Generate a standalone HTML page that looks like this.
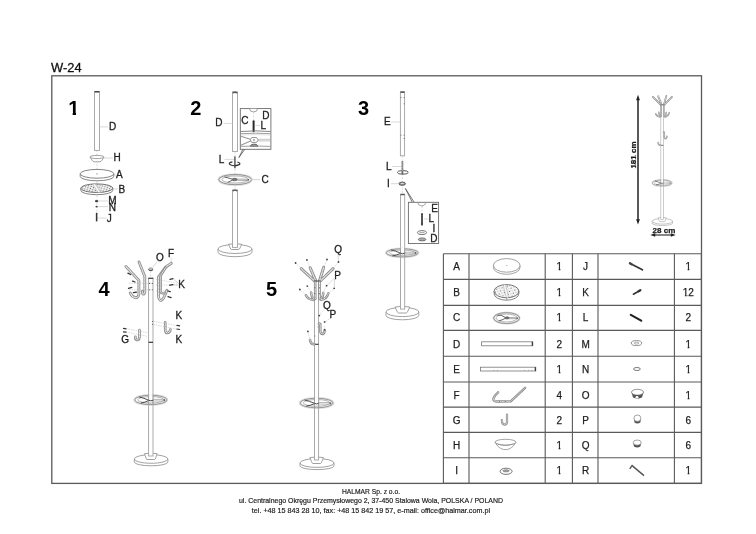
<!DOCTYPE html>
<html><head><meta charset="utf-8"><title>W-24</title>
<style>
html,body{margin:0;padding:0;background:#fff;}
body{width:756px;height:534px;overflow:hidden;position:relative;font-family:"Liberation Sans",sans-serif;}
svg{position:absolute;left:0;top:0;will-change:transform;opacity:0.999;}
svg text{font-family:"Liberation Sans",sans-serif;}
.lb{font-size:10px;fill:#1e1e1e;stroke:#1e1e1e;stroke-width:0.3;}
.num{font-size:20px;font-weight:bold;fill:#000;}
.tb{font-size:10px;fill:#1e1e1e;stroke:#1e1e1e;stroke-width:0.25;}
.ft{font-size:7.8px;fill:#222;stroke:#222;stroke-width:0.2;}
.ol{fill:#fff;stroke:#8a8a8a;stroke-width:0.8;}
.pl{fill:#fff;stroke:#a2a2a2;stroke-width:0.9;}
.ln{fill:none;stroke:#8a8a8a;stroke-width:0.8;}
.ld{fill:none;stroke:#c9c9c9;stroke-width:0.7;}
.dk{fill:none;stroke:#333;stroke-width:1.3;}
.ctr{fill:none;stroke:#c8c8c8;stroke-width:0.7;stroke-dasharray:2 1.5;}
</style></head>
<body>
<svg width="756" height="534" viewBox="0 0 756 534">
<defs>
<pattern id="dots" width="2.6" height="2.2" patternUnits="userSpaceOnUse" patternTransform="rotate(20)">
<rect width="2.6" height="2.2" fill="#f2f2f2"/><circle cx="1.2" cy="1.1" r="0.62" fill="#6a6a6a"/>
</pattern>
<pattern id="dots2" width="4.2" height="3.4" patternUnits="userSpaceOnUse" patternTransform="rotate(25)">
<rect width="4.2" height="3.4" fill="#f6f6f6"/><circle cx="1.2" cy="1.1" r="0.6" fill="#666"/><circle cx="3.3" cy="2.6" r="0.45" fill="#888"/>
</pattern>
<pattern id="hatch" width="1.8" height="1.8" patternUnits="userSpaceOnUse" patternTransform="rotate(35)">
<rect width="1.8" height="1.8" fill="#f3f3f3"/><rect width="0.6" height="1.8" fill="#b5b5b5"/>
</pattern>
</defs>
<!-- title -->
<text x="51" y="71.6" style="font-size:12.9px;fill:#111;stroke:#111;stroke-width:0.3">W-24</text>
<!-- frame -->
<rect x="51.8" y="75.8" width="649.7" height="407.6" fill="none" stroke="#5a5a5a" stroke-width="1.3"/>

<!-- STEP 1 -->
<g id="s1">
<clipPath id="c1"><rect x="60" y="95" width="30" height="17.1"/><rect x="72.67" y="95" width="3.34" height="25"/></clipPath>
<text class="num" x="68.3" y="115.2" clip-path="url(#c1)">1</text>
<line class="ctr" x1="97" y1="150" x2="97" y2="222"/>
<rect class="pl" x="94.5" y="91.4" width="5" height="59"/>
<line x1="94.6" y1="91.8" x2="99.4" y2="91.8" stroke="#444" stroke-width="1.5"/>
<line class="ld" x1="99.5" y1="126.9" x2="108" y2="126.9"/>
<text class="lb" x="109.1" y="130.4">D</text>
<!-- H -->
<path d="M90,157 C91,159 92.5,161.5 94,161.8 L100,161.8 C101.5,161.5 103,159 104,157 Z" fill="#fff"/><path class="ln" d="M90,157 C91,159 92.5,161.5 94,161.8 L100,161.8 C101.5,161.5 103,159 104,157"/>
<ellipse class="ol" cx="97" cy="157" rx="7" ry="1.6"/>
<line class="ld" x1="104" y1="158" x2="113" y2="158"/>
<text class="lb" x="113.5" y="161.2">H</text>
<!-- A -->
<path d="M80.2,173.8 L80.2,176.4 A16.8,4.4 0 0 0 113.8,176.4 L113.8,173.8 Z" fill="#fff" stroke="#666" stroke-width="0.8"/>
<ellipse cx="97" cy="173.8" rx="16.8" ry="4.4" fill="#fff" stroke="#666" stroke-width="0.8"/>
<circle cx="97" cy="173.9" r="0.6" fill="#777"/>
<line class="ld" x1="114" y1="175" x2="116" y2="175"/>
<text class="lb" x="116" y="178.2">A</text>
<!-- B -->
<path d="M80.8,188.2 L80.8,190.4 A16,4.3 0 0 0 112.8,190.4 L112.8,188.2 Z" fill="#fff" stroke="#666" stroke-width="0.8"/>
<ellipse cx="96.8" cy="188.2" rx="16" ry="4.3" fill="url(#dots)" stroke="#555" stroke-width="0.8"/>
<path d="M92.5,184 L98,192.4 L100.8,192.4 L95.3,184 Z" fill="#fafafa" stroke="#999" stroke-width="0.5"/>
<line class="ld" x1="113" y1="189" x2="118" y2="189"/>
<text class="lb" x="118.5" y="193.2">B</text>
<!-- M N J -->
<ellipse cx="96.6" cy="201.2" rx="1.7" ry="1.1" fill="#444"/>
<ellipse cx="96.6" cy="206.6" rx="1.1" ry="0.9" fill="#444"/>
<line x1="96.6" y1="212.8" x2="96.6" y2="221.3" stroke="#333" stroke-width="1.5"/>
<line class="ld" x1="98" y1="201" x2="108" y2="201"/>
<line class="ld" x1="98" y1="206.6" x2="108" y2="206.6"/>
<line class="ld" x1="98" y1="218" x2="106.5" y2="218"/>
<text class="lb" x="108.3" y="203.9">M</text>
<text class="lb" x="108.8" y="211">N</text>
<text class="lb" x="106.8" y="222">J</text>
</g>

<!-- STEP 2 -->
<g id="s2">
<text class="num" x="190.2" y="115.2">2</text>
<rect class="pl" x="232.5" y="91.8" width="5" height="59.7"/>
<path d="M232.7,93 Q235,91.4 237.3,93" fill="none" stroke="#555" stroke-width="1.4"/>
<line class="ld" x1="223.5" y1="123.4" x2="232.7" y2="123.4"/>
<text class="lb" x="215.3" y="126.3">D</text>
<!-- inset -->
<rect x="240.3" y="108.6" width="30.6" height="40.7" fill="#fff" stroke="#6a6a6a" stroke-width="0.9"/>
<path d="M249.6,108.8 A3.9,3.1 0 0 0 257.4,108.8" fill="#fff" stroke="#888" stroke-width="0.8"/>
<line class="ctr" x1="253.6" y1="112" x2="253.6" y2="120"/>
<line x1="253.6" y1="121.3" x2="253.6" y2="131.2" stroke="#2a2a2a" stroke-width="2" stroke-linecap="round"/>
<text class="lb" x="241.3" y="123.7">C</text>
<text class="lb" x="262.3" y="118.5">D</text>
<text class="lb" x="260.5" y="128.8">L</text>
<line class="ld" x1="255.5" y1="125.5" x2="260" y2="125.5"/>
<path d="M240.8,131.5 Q256,130.2 270.5,131.5" fill="none" stroke="#777" stroke-width="0.9"/>
<path d="M240.8,133.7 Q256,132.7 270.5,133.7" fill="none" stroke="#888" stroke-width="0.8"/>
<path d="M240.8,135 Q256,134.2 270.5,135" fill="none" stroke="#ccc" stroke-width="0.6"/>
<path d="M240.8,136.3 L250.3,139.3 M240.8,145.3 L250.6,140.9" fill="none" stroke="#999" stroke-width="1.1"/>
<path d="M258,139.3 L270.5,139.3 M258,140.9 L270.5,140.9" fill="none" stroke="#aaa" stroke-width="0.7"/>
<path d="M250.2,139.9 L251.8,137.5 L256.5,137.5 L258.2,139.9 L256.5,142.4 L251.8,142.4 Z" fill="#fff" stroke="#777" stroke-width="0.8"/>
<ellipse cx="254" cy="139.9" rx="1.1" ry="0.7" fill="#777"/>
<path d="M250.3,146.2 Q250.8,144.1 254.1,144.1 Q257.4,144.1 257.9,146.2 Z" fill="#bbb" stroke="#444" stroke-width="0.8"/>
<path d="M240.8,146.4 Q256,145.6 270.5,146.4" fill="none" stroke="#888" stroke-width="0.8"/>
<!-- callout wedge -->
<path d="M242.9,149.3 L238.9,157.6 L244.7,149.3" fill="none" stroke="#555" stroke-width="0.8" stroke-linejoin="round"/>
<!-- L bolt + washer -->
<line class="ctr" x1="235" y1="151.5" x2="235" y2="189.5"/>
<line x1="234.9" y1="156.6" x2="234.9" y2="168.3" stroke="#666" stroke-width="1.6"/>
<path d="M232.4,161.9 A5.3,1.9 0 1 0 237.3,162" fill="none" stroke="#333" stroke-width="1.2"/>
<line class="ld" x1="224.5" y1="159.4" x2="234" y2="159.4"/>
<text class="lb" x="218.7" y="162.7">L</text>
<!-- C disc -->
<ellipse cx="235.1" cy="179.6" rx="16.4" ry="5.1" fill="#fff" stroke="#e0e0e0" stroke-width="2.6"/>
<ellipse cx="235.1" cy="179.6" rx="16.4" ry="5.1" fill="none" stroke="#808080" stroke-width="0.8"/>
<ellipse cx="235.1" cy="179.5" rx="13.3" ry="3.5" fill="none" stroke="#999" stroke-width="0.7"/>
<path d="M224.5,176.9 L232.6,179.2 M227.7,182.4 L232.8,180" fill="none" stroke="#555" stroke-width="0.9"/>
<path d="M237.2,179 L248.6,179.3 M237.2,180.4 L248.6,180.4" fill="none" stroke="#888" stroke-width="0.7"/>
<ellipse cx="234.7" cy="179.5" rx="2.5" ry="1.3" fill="#777" stroke="#444" stroke-width="0.6"/>
<circle cx="248.4" cy="179.8" r="0.8" fill="#555"/>
<line class="ld" x1="251" y1="179.5" x2="260" y2="179.5"/>
<text class="lb" x="261.4" y="183.3">C</text>
<!-- lower pole + base -->
<path class="ol" d="M218,249 L218,252.2 A17,4.5 0 0 0 252,252.2 L252,249 Z"/>
<ellipse class="ol" cx="235" cy="249" rx="17" ry="4.5"/>
<path class="ol" d="M228.5,244.3 C230.0,247.10000000000002 230.4,249.4 231.6,249.5 L238.6,249.5 C239.8,249.4 240.2,247.10000000000002 241.7,244.3 Q235.1,243.0 228.5,244.3 Z"/>
<rect class="pl" x="232.5" y="189.9" width="5" height="57.5"/>
<path d="M232.7,190.9 Q235,189.4 237.3,190.9" fill="none" stroke="#555" stroke-width="1.4"/>
</g>

<!-- STEP 3 -->
<g id="s3">
<text class="num" x="358" y="115.3">3</text>
<rect class="pl" x="400.4" y="91.7" width="4.2" height="64.1"/>
<line x1="400.5" y1="92.2" x2="404.5" y2="92.2" stroke="#555" stroke-width="1.5"/>
<g stroke="#666" stroke-width="0.9"><path d="M400.5,97.6 h1 M403.6,97.6 h1 M403.6,103.8 h1 M400.5,135.2 h1 M403.6,135.2 h1 M403.6,138.5 h1"/></g>
<line class="ld" x1="391" y1="122" x2="400.2" y2="122"/>
<text class="lb" x="384" y="125.4">E</text>
<line class="ctr" x1="402.4" y1="156" x2="402.4" y2="194"/>
<path d="M397.3,172.4 A5.5,1.8 0 0 1 408.3,172.4" fill="none" stroke="#444" stroke-width="0.9"/>
<line x1="402.4" y1="161.2" x2="402.4" y2="174" stroke="#666" stroke-width="1.7"/>
<path d="M401.6,163 L403.2,162.4 M401.6,164.6 L403.2,164 M401.6,166.2 L403.2,165.6 M401.6,167.8 L403.2,167.2 M401.6,169.4 L403.2,168.8 M401.6,171 L403.2,170.4" stroke="#eee" stroke-width="0.5"/>
<path d="M397.3,172.4 A5.5,1.8 0 0 0 408.3,172.4" fill="none" stroke="#444" stroke-width="0.9"/>
<line class="ld" x1="392" y1="166.5" x2="401.5" y2="166.5"/>
<text class="lb" x="386" y="170">L</text>
<ellipse cx="402.2" cy="183.7" rx="3.3" ry="1.6" fill="#999" stroke="#444" stroke-width="0.8"/>
<ellipse cx="402.2" cy="183.4" rx="1.5" ry="0.6" fill="#ddd"/>
<line class="ld" x1="391" y1="183.7" x2="398.5" y2="183.7"/>
<text class="lb" x="387" y="186.6">I</text>
<!-- callout -->
<path d="M412.3,202.3 L405.4,188.5 L414.2,202.3" fill="none" stroke="#555" stroke-width="0.8" stroke-linejoin="round"/>
<rect x="408.4" y="202.3" width="30.2" height="41.2" fill="#fff" stroke="#6a6a6a" stroke-width="0.9"/>
<path class="ln" d="M417.8,202.3 C418.2,204.8 419.6,205.8 421.8,205.8 C424,205.8 425.4,204.8 425.7,202.3"/>
<line class="ctr" x1="422" y1="206" x2="422" y2="213"/>
<line x1="422" y1="213.9" x2="422" y2="224.7" stroke="#333" stroke-width="1.8" stroke-linecap="round"/>
<path d="M421.2,216 l1.6,-0.5 M421.2,218 l1.6,-0.5 M421.2,220 l1.6,-0.5 M421.2,222 l1.6,-0.5" stroke="#999" stroke-width="0.4"/>
<ellipse cx="422" cy="232.6" rx="4.6" ry="2" fill="#fff" stroke="#555" stroke-width="0.8"/>
<line x1="419.5" y1="232.6" x2="424.5" y2="232.6" stroke="#666" stroke-width="0.6"/>
<ellipse cx="422.1" cy="239.4" rx="3.8" ry="1.5" fill="#aaa" stroke="#555" stroke-width="0.7"/>
<line class="ld" x1="424" y1="219" x2="428.5" y2="219"/>
<text class="lb" x="431.2" y="212.1">E</text>
<text class="lb" x="428.5" y="222.1">L</text>
<text class="lb" x="432.5" y="231.6">I</text>
<text class="lb" x="430.2" y="241.5">D</text>
<!-- lower pole -->
<path class="ol" d="M386,312 L386,315.5 A16.4,4.3 0 0 0 418.8,315.5 L418.8,312 Z"/>
<ellipse class="ol" cx="402.4" cy="312" rx="16.4" ry="4.6"/>
<path class="ol" d="M395.0,307 C396.5,309.8 397.3,312.9 398.5,313 L406.3,313 C407.5,312.9 408.3,309.8 409.8,307 Q402.4,305.7 395.0,307.0 Z"/>
<rect class="pl" x="400.5" y="194.1" width="4.2" height="115"/>
<line x1="400.6" y1="194.6" x2="404.6" y2="194.6" stroke="#555" stroke-width="1.3"/>
<g class="ring">
<ellipse cx="402.2" cy="252.8" rx="16" ry="4.1" fill="none" stroke="#e2e2e2" stroke-width="2.6"/>
<ellipse cx="402.2" cy="252.8" rx="16" ry="4.1" fill="none" stroke="#858585" stroke-width="0.8"/>
<ellipse cx="402.2" cy="252.7" rx="12.8" ry="2.6" fill="none" stroke="#999" stroke-width="0.7"/>
<path d="M390.8,249.9 Q395.2,250.8 400.5,253.1 M392.4,255.9 Q396.2,255.4 400.5,253.5" fill="none" stroke="#3a3a3a" stroke-width="0.9"/>
<path d="M404.7,252.3 L415.4,252.3 M404.7,253.9 L415.4,253.9" fill="none" stroke="#999" stroke-width="0.7"/>
<ellipse cx="415.6" cy="253.1" rx="0.9" ry="1.1" fill="#666"/>
<rect x="400.9" y="247.7" width="3.4" height="5.4" fill="#fff"/>
<path d="M400.5,247.7 L400.5,258.1 M404.7,258.1 L404.7,247.7" fill="none" stroke="#999" stroke-width="0.8"/><path d="M400.5,253.1 Q402.6,254.3 404.7,253.1" fill="none" stroke="#333" stroke-width="0.9"/>
</g>
</g>

<!-- DIMENSION -->
<g id="dim">
<line x1="638" y1="98" x2="638" y2="221" stroke="#222" stroke-width="1.5"/>
<path d="M638,94.8 L636.1,100.2 L639.9,100.2 Z M638,224.6 L636.1,219.2 L639.9,219.2 Z" fill="#222"/>
<clipPath id="c181"><rect x="-1" y="-10" width="40" height="9.15"/><rect x="1.15" y="-10" width="1.6" height="12"/><rect x="4.3" y="-10" width="4.5" height="12"/><rect x="10.05" y="-10" width="1.6" height="12"/><rect x="12.6" y="-10" width="30" height="12"/></clipPath>
<text transform="translate(636.3,168.6) rotate(-90)" clip-path="url(#c181)" style="font-size:8px;font-weight:bold;fill:#1a1a1a;stroke:#1a1a1a;stroke-width:0.25">181 cm</text>
<!-- mini rack -->
<use href="#rack5" transform="translate(662.1,96.5) scale(0.6,0.64) translate(-316.6,-268)"/>
<text x="652.6" y="232.6" style="font-size:8px;font-weight:bold;fill:#1a1a1a;stroke:#1a1a1a;stroke-width:0.25">28 cm</text>
<line x1="653" y1="235" x2="673" y2="235" stroke="#222" stroke-width="1.1"/>
<path d="M650.3,235 L655.2,233.2 L655.2,236.8 Z M675.7,235 L670.8,233.2 L670.8,236.8 Z" fill="#222"/>
</g>

<!-- STEP 4 -->
<g id="s4">
<text class="num" x="98.4" y="295.8">4</text>
<!-- pole -->
<path class="ol" d="M134.3,459 L134.3,462 A16.8,3.8 0 0 0 167.9,462 L167.9,459 Z"/>
<ellipse class="ol" cx="151.1" cy="459" rx="16.8" ry="4.3"/>
<path class="ol" d="M144.4,453.7 C145.9,456.5 145.8,459.4 147.0,459.5 L154.7,459.5 C155.8,459.4 155.8,456.5 157.2,453.7 Q150.8,452.4 144.4,453.7 Z"/>
<rect class="pl" x="148.6" y="278" width="4.4" height="178"/>
<line x1="148.3" y1="278.4" x2="153.3" y2="278.4" stroke="#444" stroke-width="1.1"/>
<line x1="148.6" y1="342.3" x2="153" y2="342.3" stroke="#333" stroke-width="1.2"/>
<!-- ring -->
<g class="ring">
<ellipse cx="150.8" cy="399.9" rx="16.2" ry="4.7" fill="none" stroke="#e2e2e2" stroke-width="2.6"/>
<ellipse cx="150.8" cy="399.9" rx="16.2" ry="4.7" fill="none" stroke="#858585" stroke-width="0.8"/>
<ellipse cx="150.8" cy="399.8" rx="13" ry="3.2" fill="none" stroke="#999" stroke-width="0.7"/>
<path d="M139.2,397 Q143.6,397.9 148.6,400.2 M140.8,403 Q144.6,402.5 148.6,400.6" fill="none" stroke="#3a3a3a" stroke-width="0.9"/>
<path d="M153,399.4 L164.2,399.4 M153,401 L164.2,401" fill="none" stroke="#999" stroke-width="0.7"/>
<ellipse cx="164.4" cy="400.2" rx="0.9" ry="1.1" fill="#666"/>
<rect x="149" y="394.2" width="3.6" height="6" fill="#fff"/>
<path d="M148.6,394.2 L148.6,405.8 M153,405.8 L153,394.2" fill="none" stroke="#999" stroke-width="0.8"/><path d="M148.6,400.2 Q150.8,401.4 153,400.2" fill="none" stroke="#333" stroke-width="0.9"/>
</g>
<!-- O cap and labels -->
<ellipse cx="150.7" cy="269.3" rx="2.2" ry="1.5" fill="#ccc" stroke="#666" stroke-width="0.5"/>
<path d="M148.6,269.6 A2.2,1.2 0 0 0 152.8,269.6" fill="none" stroke="#333" stroke-width="0.9"/>
<line class="ctr" x1="150.7" y1="271" x2="150.7" y2="277"/>
<line class="ld" x1="152.6" y1="267.6" x2="157" y2="261.6"/>
<text class="lb" x="156" y="260.7">O</text>
<text class="lb" x="168" y="256.8">F</text>
<line class="ld" x1="171" y1="257.6" x2="171.3" y2="262.5"/>
<!-- dashed alignment lines -->
<path class="ld" d="M129,283.3 L153,283.3 M129,289.8 L153,289.8 M156,279.3 L178,283.3 M156,285 L178,285.2 M156,291 L168,291.2" style="stroke-dasharray:1.5 1"/>
<g fill="#555"><circle cx="149.6" cy="283.4" r="0.55"/><circle cx="152.3" cy="283.4" r="0.55"/><circle cx="149.6" cy="289.8" r="0.55"/><circle cx="152.3" cy="289.8" r="0.55"/></g>
<!-- hooks -->
<g fill="none" stroke-linecap="round" stroke-linejoin="round">
<path d="M125.9,266.5 L138.9,280.4 L138.9,294.2 Q138.5,298 135.3,297.7 Q132,297 130.2,293" stroke="#8a8a8a" stroke-width="2.8"/>
<path d="M125.9,266.5 L138.9,280.4 L138.9,294.2 Q138.5,298 135.3,297.7 Q132,297 130.2,293" stroke="url(#hatch)" stroke-width="1.2"/>
<path d="M139,261.9 L144.8,276.5 L144.8,292.5 Q144.3,294.5 143,294 Q142.2,293.5 142.3,291.5" stroke="#8a8a8a" stroke-width="2.8"/>
<path d="M139,261.9 L144.8,276.5 L144.8,292.5 Q144.3,294.5 143,294 Q142.2,293.5 142.3,291.5" stroke="url(#hatch)" stroke-width="1.2"/>
<path d="M171.3,263.3 L165.2,267.5 L158.4,277 L158.4,295 Q158.8,300.5 161,300.5 Q163.5,300 166.9,290.3" stroke="#8a8a8a" stroke-width="2.8"/>
<path d="M171.3,263.3 L165.2,267.5 L158.4,277 L158.4,295 Q158.8,300.5 161,300.5 Q163.5,300 166.9,290.3" stroke="url(#hatch)" stroke-width="1.2"/>
<path d="M165.7,267.5 L160.7,275.5 L160.7,292.2 Q161.5,294 164.6,292.8" stroke="#8a8a8a" stroke-width="2.4"/>
<path d="M165.7,267.5 L160.7,275.5 L160.7,292.2 Q161.5,294 164.6,292.8" stroke="url(#hatch)" stroke-width="0.9"/>
</g>
<!-- K screws top -->
<g stroke="#333" stroke-width="1.3" stroke-linecap="round">
<path d="M127.9,273.2 L130.6,274.5 M132.6,281.1 L135,282 M128.5,288.3 L131.8,287.3 M133.4,292.7 L136.5,292.1"/>
<path d="M170,279.4 L173,278.7 M169.7,285.2 L173,284.6 M168,291 L170.2,291.7 M168,296.7 L171.1,297.6"/>
</g>
<line class="ld" x1="173.5" y1="279" x2="178.5" y2="283.5"/>
<line class="ld" x1="173.5" y1="284.7" x2="178.5" y2="285"/>
<text class="lb" x="178.2" y="288.4">K</text>
<!-- lower hooks G -->
<path class="ld" d="M126,328.7 L148.3,332.8 M126,332 L148.3,336.5 M153.3,321.3 L177,325.6 M153.3,324.3 L177,329.3" style="stroke-dasharray:1.5 1"/>
<g fill="none" stroke-linecap="round">
<path d="M165.2,322.3 L165.2,330 Q165.5,333.2 167.5,333 Q170,332.5 170.4,329.5" stroke="#8a8a8a" stroke-width="2.6"/>
<path d="M165.2,322.3 L165.2,330 Q165.5,333.2 167.5,333 Q170,332.5 170.4,329.5" stroke="url(#hatch)" stroke-width="1"/>
<path d="M139.5,330 L139.5,337.5 Q139,340.2 137,340 Q135,339.8 135.4,336.8" stroke="#8a8a8a" stroke-width="2.6"/>
<path d="M139.5,330 L139.5,337.5 Q139,340.2 137,340 Q135,339.8 135.4,336.8" stroke="url(#hatch)" stroke-width="1"/>
</g>
<g stroke="#333" stroke-width="1.2" stroke-linecap="round">
<path d="M123.5,328.4 L126,328.9 M123.5,331.8 L126,332.2 M177,325.3 L179.6,325.8 M177,329 L179.6,329.5"/>
</g>
<g fill="#555"><circle cx="152.5" cy="321.5" r="0.55"/><circle cx="152.5" cy="324.3" r="0.55"/></g>
<text class="lb" x="175.4" y="318.6">K</text>
<text class="lb" x="175.4" y="343.2">K</text>
<text class="lb" x="121.2" y="343.4">G</text>
</g>

<!-- STEP 5 -->
<g id="s5">
<text class="num" x="266" y="295.7">5</text>
<g id="rack5">
<!-- base -->
<path class="ol" d="M300,463 L300,466 A17,3.6 0 0 0 334,466 L334,463 Z"/>
<ellipse class="ol" cx="317" cy="463" rx="17" ry="4.4"/>
<path class="ol" d="M309.9,457.6 C311.4,460.40000000000003 311.7,463.4 312.9,463.5 L320.5,463.5 C321.7,463.4 322.0,460.40000000000003 323.5,457.6 Q316.7,456.3 309.9,457.6 Z"/>
<rect class="pl" x="314.5" y="281" width="4.1" height="179"/>
<line x1="314.5" y1="344.3" x2="318.6" y2="344.3" stroke="#333" stroke-width="1.1"/>
<!-- ring -->
<g class="ring">
<ellipse cx="316.6" cy="403" rx="16.5" ry="4.8" fill="none" stroke="#e2e2e2" stroke-width="2.6"/>
<ellipse cx="316.6" cy="403" rx="16.5" ry="4.8" fill="none" stroke="#858585" stroke-width="0.8"/>
<ellipse cx="316.6" cy="402.9" rx="13.3" ry="3.3" fill="none" stroke="#999" stroke-width="0.7"/>
<path d="M304.7,400.1 Q309.1,401 314.5,403.3 M306.3,406.1 Q310.1,405.6 314.5,403.7" fill="none" stroke="#3a3a3a" stroke-width="0.9"/>
<path d="M318.6,402.5 L330.3,402.5 M318.6,404.1 L330.3,404.1" fill="none" stroke="#999" stroke-width="0.7"/>
<ellipse cx="330.5" cy="403.3" rx="0.9" ry="1.1" fill="#666"/>
<rect x="314.9" y="397.2" width="3.3" height="6.1" fill="#fff"/>
<path d="M314.5,397.2 L314.5,409 M318.6,409 L318.6,397.2" fill="none" stroke="#999" stroke-width="0.8"/><path d="M314.5,403.3 Q316.55,404.5 318.6,403.3" fill="none" stroke="#333" stroke-width="0.9"/>
</g>
<!-- top arms -->
<g fill="none" stroke-linecap="round" stroke-linejoin="round">
<path d="M301.2,268.6 L314.8,281.2 M310.1,267.7 L315.8,280.8 M323.7,267.2 L319.5,280.8 M333.1,268.6 L320,281.2" stroke="#8a8a8a" stroke-width="2.9"/>
<path d="M301.2,268.6 L314.8,281.2 M310.1,267.7 L315.8,280.8 M323.7,267.2 L319.5,280.8 M333.1,268.6 L320,281.2" stroke="url(#hatch)" stroke-width="1.2"/>
<path d="M315.2,281 L315.2,299 M319.5,281 L319.5,299" stroke="#8a8a8a" stroke-width="2.6"/>
<path d="M315.2,281 L315.2,299 M319.5,281 L319.5,299" stroke="url(#hatch)" stroke-width="1"/>
<path d="M305.9,295.3 Q308,299.5 313.5,300 M311.1,292.5 Q311.5,297.5 314,299 M323.3,293 Q323,297.5 320.8,299 M328.4,293.4 Q326.5,299.3 321,299.8" stroke="#8a8a8a" stroke-width="2.5"/>
<path d="M305.9,295.3 Q308,299.5 313.5,300 M311.1,292.5 Q311.5,297.5 314,299 M323.3,293 Q323,297.5 320.8,299 M328.4,293.4 Q326.5,299.3 321,299.8" stroke="url(#hatch)" stroke-width="0.9"/>
<path d="M318.9,323.5 L320.3,324 L320.3,331 Q320.8,334.3 322.8,334 Q324.6,333.3 324.6,330.2" stroke="#8a8a8a" stroke-width="2.5"/>
<path d="M318.9,323.5 L320.3,324 L320.3,331 Q320.8,334.3 322.8,334 Q324.6,333.3 324.6,330.2" stroke="url(#hatch)" stroke-width="0.9"/>
<path d="M310,339.9 Q310.5,344 313.5,344.2 L314.2,344.2" stroke="#8a8a8a" stroke-width="2.5"/>
<path d="M310,339.9 Q310.5,344 313.5,344.2 L314.2,344.2" stroke="url(#hatch)" stroke-width="0.9"/>
</g>
<line x1="314" y1="281" x2="320.5" y2="281" stroke="#555" stroke-width="0.9"/>
</g>
<!-- dotted guides -->
<path class="ld" d="M295.6,263 L301.2,268.6 M306.9,259.9 L310.1,267.7 M327,259.5 L323.7,267.2 M338.5,262 L333.1,268.6 M299.8,289.5 L305.9,295.3 M307.3,286.1 L311.1,292.5 M326.6,285.7 L323.3,293 M334.2,288.3 L328.4,293.4" style="stroke-dasharray:1.2 0.8"/>
<g fill="#444">
<circle cx="295.6" cy="263" r="0.9"/><circle cx="306.9" cy="259.9" r="0.9"/><circle cx="327" cy="259.5" r="0.9"/><circle cx="338.5" cy="262" r="0.9"/>
<circle cx="299.8" cy="289.5" r="0.9"/><circle cx="307.3" cy="286.1" r="0.9"/><circle cx="326.6" cy="285.7" r="0.9"/><circle cx="334.2" cy="288.3" r="0.9"/>
<circle cx="314.8" cy="287.8" r="0.5"/><circle cx="319.3" cy="287.8" r="0.5"/><circle cx="314.8" cy="293.4" r="0.5"/><circle cx="319.3" cy="293.4" r="0.5"/>
</g>
<line class="ld" x1="338" y1="253.5" x2="338.5" y2="261"/>
<path class="ld" d="M334,278.5 L327.5,285 M334.5,279 L334.3,287.3"/>
<text class="lb" x="334.2" y="252.9">Q</text>
<text class="lb" x="334.2" y="278.6">P</text>
<path class="ld" d="M319.3,315.6 L324,309 M324.6,321.9 L331,318 M307.9,331.4 L310,339.5 M324.6,326 L324.6,329.9" style="stroke-dasharray:1.2 0.8"/>
<g fill="#444"><circle cx="319.3" cy="315.6" r="0.9"/><circle cx="324.6" cy="321.9" r="0.9"/><circle cx="307.9" cy="331.4" r="0.9"/><circle cx="324.6" cy="329.9" r="0.8"/>
<circle cx="315" cy="336" r="0.45"/><circle cx="318" cy="327" r="0.45"/></g>
<text class="lb" x="323" y="309">Q</text>
<text class="lb" x="329.6" y="318.3">P</text>
</g>

<!-- TABLE -->
<g id="tbl" stroke="#5a5a5a" stroke-width="1.1" fill="none">
<path d="M443.4,253.7V483.4 M469.0,253.7V483.4 M545.2,253.7V483.4 M572.4,253.7V483.4 M598.0,253.7V483.4 M674.4,253.7V483.4 M701.4,253.7V483.4"/>
<path d="M443.4,253.7H701.4 M443.4,279.4H701.4 M443.4,305.4H701.4 M443.4,330.4H701.4 M443.4,356.3H701.4 M443.4,382.0H701.4 M443.4,407.1H701.4 M443.4,432.4H701.4 M443.4,457.7H701.4 M443.4,483.4H701.4"/>
</g>

<clipPath id="t1c1"><rect x="553.20" y="258.00" width="12.00" height="11.00"/><rect x="558.65" y="258.00" width="1.75" height="14.00"/></clipPath>
<clipPath id="t1c2"><rect x="682.20" y="258.00" width="12.00" height="11.00"/><rect x="687.65" y="258.00" width="1.75" height="14.00"/></clipPath>
<clipPath id="t1c3"><rect x="553.20" y="284.00" width="12.00" height="11.00"/><rect x="558.65" y="284.00" width="1.75" height="14.00"/></clipPath>
<clipPath id="t1c4"><rect x="680.20" y="284.00" width="16.00" height="11.00"/><rect x="684.90" y="284.00" width="1.75" height="14.00"/><rect x="687.60" y="284.00" width="8.00" height="14.00"/></clipPath>
<clipPath id="t1c5"><rect x="553.20" y="309.00" width="12.00" height="11.00"/><rect x="558.65" y="309.00" width="1.75" height="14.00"/></clipPath>
<clipPath id="t1c6"><rect x="682.20" y="336.00" width="12.00" height="11.00"/><rect x="687.65" y="336.00" width="1.75" height="14.00"/></clipPath>
<clipPath id="t1c7"><rect x="553.20" y="361.00" width="12.00" height="11.00"/><rect x="558.65" y="361.00" width="1.75" height="14.00"/></clipPath>
<clipPath id="t1c8"><rect x="682.20" y="361.00" width="12.00" height="11.00"/><rect x="687.65" y="361.00" width="1.75" height="14.00"/></clipPath>
<clipPath id="t1c9"><rect x="682.20" y="386.00" width="12.00" height="11.00"/><rect x="687.65" y="386.00" width="1.75" height="14.00"/></clipPath>
<clipPath id="t1c10"><rect x="553.20" y="437.00" width="12.00" height="11.00"/><rect x="558.65" y="437.00" width="1.75" height="14.00"/></clipPath>
<clipPath id="t1c11"><rect x="553.20" y="462.00" width="12.00" height="11.00"/><rect x="558.65" y="462.00" width="1.75" height="14.00"/></clipPath>
<clipPath id="t1c12"><rect x="682.20" y="462.00" width="12.00" height="11.00"/><rect x="687.65" y="462.00" width="1.75" height="14.00"/></clipPath>
<g class="tb" text-anchor="middle">
<text x="456.6" y="270.10">A</text><text x="559.2" y="270.10" clip-path="url(#t1c1)">1</text><text x="585.6" y="270.10">J</text><text x="688.2" y="270.10" clip-path="url(#t1c2)">1</text>
<text x="456.6" y="295.60">B</text><text x="559.2" y="295.60" clip-path="url(#t1c3)">1</text><text x="585.6" y="295.60">K</text><text x="688.2" y="295.60" clip-path="url(#t1c4)">12</text>
<text x="456.6" y="320.90">C</text><text x="559.2" y="320.90" clip-path="url(#t1c5)">1</text><text x="585.6" y="320.90">L</text><text x="688.2" y="320.90">2</text>
<text x="456.6" y="347.50">D</text><text x="559.2" y="347.50">2</text><text x="585.6" y="347.50">M</text><text x="688.2" y="347.50" clip-path="url(#t1c6)">1</text>
<text x="456.6" y="373.10">E</text><text x="559.2" y="373.10" clip-path="url(#t1c7)">1</text><text x="585.6" y="373.10">N</text><text x="688.2" y="373.10" clip-path="url(#t1c8)">1</text>
<text x="456.6" y="398.50">F</text><text x="559.2" y="398.50">4</text><text x="585.6" y="398.50">O</text><text x="688.2" y="398.50" clip-path="url(#t1c9)">1</text>
<text x="456.6" y="423.60">G</text><text x="559.2" y="423.60">2</text><text x="585.6" y="423.60">P</text><text x="688.2" y="423.60">6</text>
<text x="456.6" y="449.30">H</text><text x="559.2" y="449.30" clip-path="url(#t1c10)">1</text><text x="585.6" y="449.30">Q</text><text x="688.2" y="449.30">6</text>
<text x="456.6" y="474.10">I</text><text x="559.2" y="474.10" clip-path="url(#t1c11)">1</text><text x="585.6" y="474.10">R</text><text x="688.2" y="474.10" clip-path="url(#t1c12)">1</text>
</g>
<!-- table images -->
<g id="timg">
<!-- A -->
<path class="ol" d="M493.4,265.4 L493.4,267.5 A13.3,6.8 0 0 0 520,267.5 L520,265.4 Z"/>
<ellipse class="ol" cx="506.7" cy="265.4" rx="13.3" ry="6.8"/>
<circle cx="506.9" cy="265.6" r="0.5" fill="#777"/>
<!-- B -->
<path d="M494.1,291.2 L494.1,293.6 A12.4,6.6 0 0 0 518.9,293.6 L518.9,291.2 Z" fill="#fff" stroke="#666" stroke-width="0.8"/>
<ellipse cx="506.5" cy="291.2" rx="12.4" ry="6.6" fill="url(#dots2)" stroke="#555" stroke-width="0.8"/>
<path d="M503.2,284.8 L506.3,297.7 L508.6,297.6 L505.6,284.7 Z" fill="#fafafa" stroke="#999" stroke-width="0.5"/>
<line x1="506.5" y1="297.6" x2="506.8" y2="300.2" stroke="#777" stroke-width="0.6"/>
<!-- C -->
<ellipse cx="506.6" cy="318.1" rx="12.9" ry="5.4" fill="#fff" stroke="#e0e0e0" stroke-width="2.2"/>
<ellipse cx="506.6" cy="318.1" rx="13" ry="5.5" fill="none" stroke="#808080" stroke-width="0.8"/>
<ellipse cx="506.6" cy="318" rx="10.6" ry="3.9" fill="none" stroke="#999" stroke-width="0.7"/>
<path d="M497.2,315.3 Q501,314.2 505.3,317.4 M498.8,320.8 Q502,320.2 505.4,318.3" fill="none" stroke="#555" stroke-width="0.9"/>
<path d="M508.6,317.5 L517.6,317.7 M508.6,318.7 L517.6,318.7" fill="none" stroke="#888" stroke-width="0.7"/>
<ellipse cx="507" cy="317.9" rx="2" ry="1.1" fill="#777" stroke="#444" stroke-width="0.6"/>
<circle cx="517.3" cy="318.2" r="0.7" fill="#555"/>
<!-- D -->
<rect x="481.6" y="341.8" width="51.2" height="4" fill="#fff" stroke="#777" stroke-width="0.8"/>
<line x1="532.3" y1="341.8" x2="532.3" y2="345.8" stroke="#333" stroke-width="1.2"/>
<!-- E -->
<rect x="480.4" y="367.2" width="55.4" height="3.8" fill="#fff" stroke="#777" stroke-width="0.8"/>
<line x1="535.3" y1="367.2" x2="535.3" y2="371" stroke="#333" stroke-width="1.2"/>
<g fill="#777"><circle cx="494" cy="370.3" r="0.45"/><circle cx="497.5" cy="370.3" r="0.45"/><circle cx="524.5" cy="370.3" r="0.45"/><circle cx="528.5" cy="370.3" r="0.45"/><circle cx="531.5" cy="370.3" r="0.45"/></g>
<!-- F -->
<g fill="none" stroke-linecap="round" stroke-linejoin="round">
<path d="M498.1,392.3 Q494.5,395.5 493.4,398.3 Q493,401.5 496.5,401.5 L510.7,401.3 L525.1,387.8" stroke="#8a8a8a" stroke-width="2.3"/>
<path d="M498.1,392.3 Q494.5,395.5 493.4,398.3 Q493,401.5 496.5,401.5 L510.7,401.3 L525.1,387.8" stroke="url(#hatch)" stroke-width="0.8"/>
</g>
<g fill="#555"><circle cx="499.6" cy="401.5" r="0.5"/><circle cx="505.3" cy="401.5" r="0.5"/></g>
<!-- G -->
<g fill="none" stroke-linecap="round">
<path d="M507,414.6 L507,422 Q506.8,424.6 504.6,424.6 Q502,424.4 501.9,420.2" stroke="#8a8a8a" stroke-width="2.2"/>
<path d="M507,414.6 L507,422 Q506.8,424.6 504.6,424.6 Q502,424.4 501.9,420.2" stroke="url(#hatch)" stroke-width="0.8"/>
</g>
<!-- H -->
<path class="ol" d="M495.1,442.2 C497,446 500.5,449.6 505.5,449.6 C510.5,449.6 514,446 515.9,442.2 Z"/>
<ellipse class="ol" cx="505.5" cy="442.2" rx="10.4" ry="2.9"/>
<path class="ln" d="M497.5,443.8 Q505.5,447 513.5,443.8"/>
<!-- I -->
<ellipse cx="506.1" cy="471.3" rx="6" ry="3.1" fill="#fff" stroke="#666" stroke-width="0.9"/>
<ellipse cx="506.1" cy="470.8" rx="3.2" ry="1.1" fill="#aaa" stroke="#555" stroke-width="0.5"/>
<!-- J K L -->
<line x1="630.2" y1="263.5" x2="642.4" y2="269.8" stroke="#333" stroke-width="1.7" stroke-linecap="round"/>
<line x1="629.9" y1="263.3" x2="631.6" y2="264.2" stroke="#444" stroke-width="2.3" stroke-linecap="round"/>
<line x1="633.4" y1="294.2" x2="639" y2="291" stroke="#333" stroke-width="1.6" stroke-linecap="round"/>
<line x1="638.6" y1="291.2" x2="640.3" y2="290.2" stroke="#333" stroke-width="2.3" stroke-linecap="round"/>
<line x1="630.8" y1="314.9" x2="641.2" y2="320.6" stroke="#222" stroke-width="2.2" stroke-linecap="round"/>
<!-- M N -->
<ellipse cx="636.5" cy="343.1" rx="5.2" ry="2.5" fill="#fff" stroke="#777" stroke-width="0.8"/>
<ellipse cx="636.5" cy="343.1" rx="2.3" ry="1" fill="#fff" stroke="#777" stroke-width="0.6"/>
<ellipse cx="636.9" cy="369" rx="3.4" ry="1.5" fill="#fff" stroke="#555" stroke-width="0.8"/>
<!-- O -->
<path d="M631.5,392.2 L633,397.6 Q637.5,399.8 642,397.6 L643.6,392.2 Z" fill="#555"/>
<ellipse cx="637.5" cy="392.2" rx="6" ry="2.9" fill="#fff" stroke="#666" stroke-width="0.7"/>
<ellipse cx="637" cy="397.3" rx="1.4" ry="1.2" fill="#fff"/>
<!-- P -->
<path d="M633.8,418.5 L634.5,422.6 Q637.4,424.6 640.3,422.6 L641,418.5 Z" fill="#555"/>
<ellipse cx="637.4" cy="418.2" rx="3.5" ry="3.2" fill="#fff" stroke="#666" stroke-width="0.6"/>
<!-- Q -->
<path d="M633.2,442.8 L634,446.5 Q637.2,448.4 640.4,446.5 L641.2,442.8 Z" fill="#555"/>
<ellipse cx="637.2" cy="442.6" rx="4" ry="2.6" fill="#fff" stroke="#666" stroke-width="0.6"/>
<!-- R -->
<path d="M629.7,468.8 L632.1,465.6 L644,475.6" fill="none" stroke="#555" stroke-width="1.4" stroke-linejoin="miter"/>
</g>

<!-- FOOTER -->
<text class="ft" x="342" y="493.6" textLength="58" lengthAdjust="spacingAndGlyphs">HALMAR Sp. z o.o.</text>
<text class="ft" x="239" y="503.2" textLength="264" lengthAdjust="spacingAndGlyphs">ul. Centralnego Okręgu Przemysłowego 2, 37-450 Stalowa Wola, POLSKA / POLAND</text>
<text class="ft" x="251.8" y="512.8" textLength="238.2" lengthAdjust="spacingAndGlyphs">tel. +48 15 843 28 10, fax: +48 15 842 19 57, e-mail: office@halmar.com.pl</text>
</svg>
</body></html>
